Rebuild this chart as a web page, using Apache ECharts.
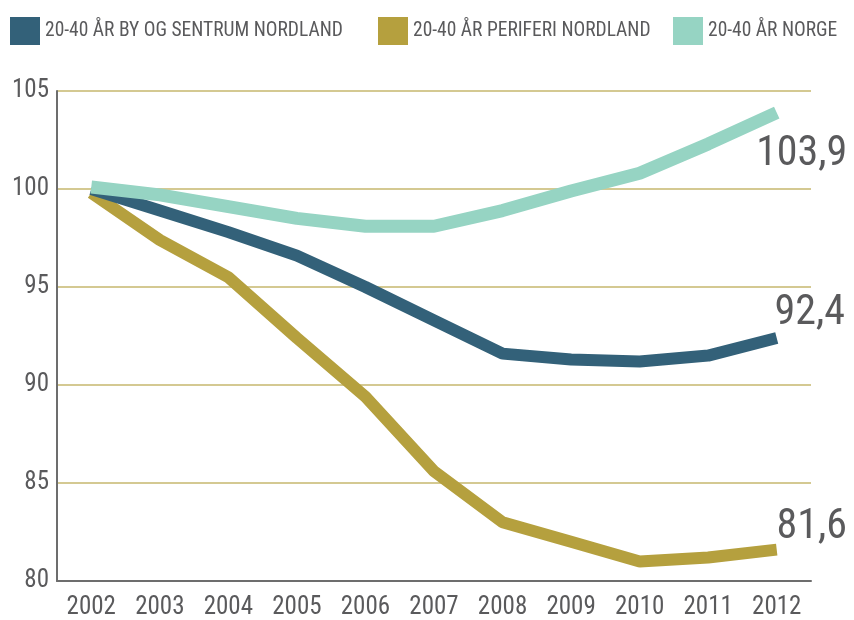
<!DOCTYPE html>
<html>
<head>
<meta charset="utf-8">
<script src="https://cdn.jsdelivr.net/npm/echarts@6/dist/echarts.min.js"></script>
<style>
  html, body { margin: 0; padding: 0; background: #fff; }
  #chart { width: 854px; height: 620px; }
</style>
</head>
<body>
<div id="chart"></div>
<script>
    // data (index, 2002 = 100)
    const years = ['2002', '2003', '2004', '2005', '2006', '2007', '2008', '2009', '2010', '2011', '2012'];
    const byNames = ['20-40 ÅR BY OG SENTRUM NORDLAND', '20-40 ÅR PERIFERI NORDLAND', '20-40 ÅR NORGE'];
    const bySentrum = [100, 98.9, 97.8, 96.6, 95.0, 93.3, 91.6, 91.3, 91.2, 91.5, 92.4];
    const periferi = [99.8, 97.4, 95.5, 92.4, 89.4, 85.6, 83.0, 82.0, 81.0, 81.2, 81.6];
    const norge = [100.1, 99.7, 99.1, 98.5, 98.1, 98.1, 98.9, 99.9, 100.8, 102.3, 103.9];

    const font = "'Roboto Condensed', Roboto, sans-serif";
    const grey = '#5a5a5c';
    const colors = ['#336179', '#b5a03e', '#96d4c3'];

    let myChart = echarts.init(document.getElementById('chart'));

    // value label at the end of a line
    function endMark(values, offset) {
        let last = values.length - 1;
        return {
            symbol: 'circle',
            symbolSize: 0,
            silent: true,
            label: {
                show: true,
                position: 'inside',
                offset: offset,
                fontFamily: font,
                fontSize: 42,
                color: grey,
                formatter: function(p) {
                    return String(p.value).replace('.', ',');
                }
            },
            data: [{ coord: [years[last], values[last]], value: values[last] }]
        };
    }

    function makeLegend(name, left) {
        return {
            left: left,
            top: 12,
            icon: 'rect',
            itemWidth: 30,
            itemHeight: 28,
            selectedMode: false,
            textStyle: { fontFamily: font, fontSize: 19.5, color: grey },
            data: [name]
        };
    }

    let option = {
        animation: false,
        color: colors,
        legend: [
            makeLegend(byNames[0], 5),
            makeLegend(byNames[1], 373),
            makeLegend(byNames[2], 668)
        ],
        grid: { left: 57, right: 43, top: 91, bottom: 39 },
        xAxis: {
            type: 'category',
            data: years,
            boundaryGap: true,
            axisLine: { lineStyle: { color: '#6d6d6d', width: 2 } },
            axisTick: { show: false },
            axisLabel: { interval: 0, fontFamily: font, fontSize: 25, color: grey, margin: 14 }
        },
        yAxis: {
            type: 'value',
            min: 80,
            max: 105,
            interval: 5,
            axisLine: { show: true, lineStyle: { color: '#6d6d6d', width: 2 } },
            axisTick: { show: false },
            axisLabel: { fontFamily: font, fontSize: 25, color: grey, margin: 8 },
            splitLine: { lineStyle: { color: '#c6b76e', width: 1.5 } }
        },
        series: [
            {
                name: byNames[1],
                type: 'line',
                data: periferi,
                showSymbol: false,
                lineStyle: { width: 12, color: colors[1] },
                itemStyle: { color: colors[1] },
                markPoint: endMark(periferi, [35, -22])
            },
            {
                name: byNames[0],
                type: 'line',
                data: bySentrum,
                showSymbol: false,
                lineStyle: { width: 12, color: colors[0] },
                itemStyle: { color: colors[0] },
                markPoint: endMark(bySentrum, [33, -24])
            },
            {
                name: byNames[2],
                type: 'line',
                data: norge,
                showSymbol: false,
                lineStyle: { width: 13, color: colors[2] },
                itemStyle: { color: colors[2] },
                markPoint: endMark(norge, [25, 42])
            }
        ]
    };

    myChart.setOption(option, true);
</script>
</body>
</html>
